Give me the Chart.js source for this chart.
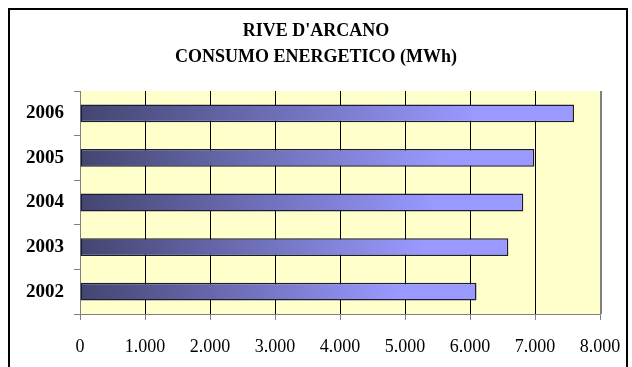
<!DOCTYPE html>
<html>
<head>
<meta charset="utf-8">
<script src="https://cdn.jsdelivr.net/npm/chart.js@4/dist/chart.umd.min.js"></script>
<style>
  html, body { margin: 0; padding: 0; background: #fff; overflow: hidden; }
  #wrap { position: relative; width: 632px; height: 367px; }
  #frame { position: absolute; left: 8px; top: 8px; width: 620px; height: 400px;
           border: 2px solid #000; box-sizing: border-box; pointer-events: none; }
  canvas { position: absolute; left: 0; top: 0; }
</style>
</head>
<body>
<div id="wrap">
  <canvas id="chart" width="632" height="367"></canvas>
  <div id="frame"></div>
</div>
<script>
// years shown on the category axis
const years = ['2002', '2003', '2004', '2005', '2006'];
// energy use, MWh
const consumo = [6100, 6590, 6820, 6990, 7600];
const xTicks = [0, 1000, 2000, 3000, 4000, 5000, 6000, 7000, 8000];
const titleLines = ["RIVE D'ARCANO", 'CONSUMO ENERGETICO (MWh)'];

const serif = 'Liberation Serif';

function fmt(v) {
  return String(v).replace(/\B(?=(\d{3})+(?!\d))/g, '.');
}

// yellow plot area, grey right edge, and the title centred on the whole canvas
const plotBg = {
  id: 'plotBg',
  beforeDraw(chart) {
    const { ctx, chartArea: a } = chart;
    ctx.save();
    ctx.fillStyle = '#FFFFCC';
    ctx.fillRect(a.left, a.top, a.right - a.left, a.bottom - a.top);
    ctx.restore();
  },
  afterDatasetsDraw(chart) {
    const { ctx, chartArea: a } = chart;
    ctx.save();
    ctx.strokeStyle = '#808080';
    ctx.lineWidth = 2;
    ctx.beginPath();
    ctx.moveTo(a.right + 1, a.top);
    ctx.lineTo(a.right + 1, a.bottom);
    ctx.stroke();
    ctx.restore();
  },
  afterDraw(chart) {
    const ctx = chart.ctx;
    ctx.save();
    ctx.fillStyle = '#000';
    ctx.font = 'bold 18px "' + serif + '"';
    ctx.textAlign = 'center';
    ctx.textBaseline = 'middle';
    titleLines.forEach((t, i) => ctx.fillText(t, chart.width / 2, 31 + i * 26));
    ctx.restore();
  }
};

function barFill(c) {
  const chart = c.chart;
  if (!chart.chartArea || c.parsed == null) return '#7777cc';
  const sx = chart.scales.x;
  const x0 = sx.getPixelForValue(0);
  const x1 = sx.getPixelForValue(c.parsed.x);
  const g = chart.ctx.createLinearGradient(x0, 0, x1, 0);
  g.addColorStop(0, '#434570');
  g.addColorStop(0.8, '#9999FF');
  g.addColorStop(1, '#9999FF');
  return g;
}

new Chart(document.getElementById('chart'), {
  type: 'bar',
  data: {
    labels: years,
    datasets: [{
      data: consumo,
      backgroundColor: barFill,
      borderColor: '#1c1c38',
      borderWidth: 1.5,
      borderSkipped: false,
      barPercentage: 0.4,
      categoryPercentage: 1
    }]
  },
  plugins: [plotBg],
  options: {
    indexAxis: 'y',
    responsive: false,
    animation: false,
    layout: { padding: { top: 91, right: 32, bottom: 13, left: 0 } },
    plugins: {
      legend: { display: false },
      tooltip: { enabled: false },
      title: { display: false }
    },
    scales: {
      x: {
        min: 0,
        max: 8000,
        afterBuildTicks(s) { s.ticks = xTicks.map(v => ({ value: v })); },
        afterFit(s) { s.height = 40; s.paddingLeft = 0; s.paddingRight = 0; },
        border: { display: true, color: '#808080', width: 1 },
        grid: {
          color: (c) => (c.index === 0 || c.index === xTicks.length - 1) ? 'rgba(0,0,0,0)' : '#000',
          tickColor: '#808080',
          tickLength: 6,
          lineWidth: 1
        },
        ticks: {
          color: '#000',
          padding: 16,
          maxRotation: 0,
          font: { family: serif, size: 18 },
          callback: (v) => fmt(v)
        }
      },
      y: {
        reverse: true,
        afterFit(s) { s.width = 80; s.paddingTop = 0; s.paddingBottom = 0; },
        border: { display: true, color: '#808080', width: 1 },
        grid: {
          offset: true,
          drawOnChartArea: false,
          tickColor: '#808080',
          tickLength: 6
        },
        ticks: {
          color: '#000',
          padding: 10,
          font: { family: serif, size: 19, weight: 'bold' }
        }
      }
    }
  }
});
</script>
</body>
</html>
